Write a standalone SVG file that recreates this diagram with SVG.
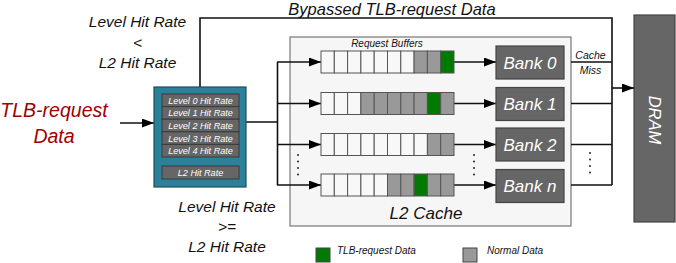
<svg xmlns="http://www.w3.org/2000/svg" width="676" height="263" viewBox="0 0 676 263">
<defs>
<marker id="ah" markerWidth="12" markerHeight="9" refX="12" refY="4.5" orient="auto" markerUnits="userSpaceOnUse">
<path d="M0,0 L12,4.5 L0,9 Z" fill="#000"/>
</marker>
<style>
text{font-family:"Liberation Sans",Arial,sans-serif;font-style:italic;}
.ln{stroke:#111;stroke-width:1.6;fill:none;}
.w{fill:#f8f8f8;stroke:#555;stroke-width:1;}
.g{fill:#999;stroke:#555;stroke-width:1;}
.gr{fill:#007a00;stroke:#555;stroke-width:1;}
.bank{fill:#666;stroke:#444;stroke-width:1.2;}
.bt{fill:#fff;font-size:17px;text-anchor:middle;}
.hr{fill:#666;stroke:#3a3a3a;stroke-width:1;}
.ht{fill:#fff;font-size:9.1px;text-anchor:middle;}
.lbl{fill:#111;font-size:15.5px;text-anchor:middle;}
</style>
</defs>
<rect width="676" height="263" fill="#fff"/>

<g id="l2cache">
<rect x="290" y="37" width="281" height="189" fill="#f6f6f6" stroke="#777" stroke-width="1.2"/>
<text x="426" y="219" font-size="17" fill="#111" text-anchor="middle">L2 Cache</text>
<text x="387" y="47" font-size="10" fill="#111" text-anchor="middle">Request Buffers</text>
</g>

<g id="dram">
<rect x="634" y="15" width="41" height="207" fill="#666" stroke="#444" stroke-width="1.2"/>
<text x="0" y="0" font-size="16.5" fill="#fff" text-anchor="middle" transform="translate(649,120) rotate(90)">DRAM</text>
</g>

<g id="connectors">
<path class="ln" d="M200,87 V18 H612 V185"/>
<path class="ln" d="M571,62 H612 M571,103.5 H612 M571,144.5 H612 M571,185 H612"/>
<line class="ln" x1="612" y1="88" x2="634" y2="88" marker-end="url(#ah)"/>
<line class="ln" x1="120" y1="123" x2="154" y2="123" marker-end="url(#ah)"/>
<path class="ln" d="M246,122 H277.5 M277.5,62 V185"/>
<line class="ln" x1="277" y1="62" x2="321" y2="62" marker-end="url(#ah)"/>
<line class="ln" x1="277" y1="103.5" x2="321" y2="103.5" marker-end="url(#ah)"/>
<line class="ln" x1="277" y1="144.5" x2="321" y2="144.5" marker-end="url(#ah)"/>
<line class="ln" x1="277" y1="185" x2="321" y2="185" marker-end="url(#ah)"/>
<line class="ln" x1="454" y1="62" x2="496" y2="62" marker-end="url(#ah)"/>
<line class="ln" x1="454" y1="103.5" x2="496" y2="103.5" marker-end="url(#ah)"/>
<line class="ln" x1="454" y1="144.5" x2="496" y2="144.5" marker-end="url(#ah)"/>
<line class="ln" x1="454" y1="185" x2="496" y2="185" marker-end="url(#ah)"/>
<g fill="#111">
<circle cx="298" cy="155" r="0.9"/><circle cx="298" cy="161.5" r="0.9"/><circle cx="298" cy="168" r="0.9"/><circle cx="298" cy="174.5" r="0.9"/>
<circle cx="474" cy="155" r="0.9"/><circle cx="474" cy="161.5" r="0.9"/><circle cx="474" cy="168" r="0.9"/><circle cx="474" cy="174.5" r="0.9"/>
<circle cx="590" cy="153" r="0.9"/><circle cx="590" cy="159.5" r="0.9"/><circle cx="590" cy="166" r="0.9"/><circle cx="590" cy="172.5" r="0.9"/>
</g>
<text x="590.5" y="59" font-size="10.5" fill="#111" text-anchor="middle">Cache</text>
<text x="590.5" y="74" font-size="10.5" fill="#111" text-anchor="middle">Miss</text>
</g>

<g id="hitrates">
<rect x="154" y="87" width="92" height="100" fill="#2b8199" stroke="#1d4f5e" stroke-width="1.2"/>
<rect class="hr" x="162" y="94" width="77" height="12.6"/><text class="ht" x="200.5" y="103.8">Level 0 Hit Rate</text>
<rect class="hr" x="162" y="106.6" width="77" height="12.6"/><text class="ht" x="200.5" y="116.4">Level 1 Hit Rate</text>
<rect class="hr" x="162" y="119.2" width="77" height="12.6"/><text class="ht" x="200.5" y="129">Level 2 Hit Rate</text>
<rect class="hr" x="162" y="131.8" width="77" height="12.6"/><text class="ht" x="200.5" y="141.6">Level 3 Hit Rate</text>
<rect class="hr" x="162" y="144.4" width="77" height="12.6"/><text class="ht" x="200.5" y="154.2">Level 4 Hit Rate</text>
<rect class="hr" x="162" y="166" width="77" height="13"/><text class="ht" x="200.5" y="176">L2 Hit Rate</text>
</g>

<g id="buffer0">
<rect class="w" x="321" y="51" width="13.3" height="22"/><rect class="w" x="334.3" y="51" width="13.3" height="22"/><rect class="w" x="347.6" y="51" width="13.3" height="22"/><rect class="w" x="360.9" y="51" width="13.3" height="22"/><rect class="w" x="374.2" y="51" width="13.3" height="22"/><rect class="w" x="387.5" y="51" width="13.3" height="22"/><rect class="w" x="400.8" y="51" width="13.3" height="22"/><rect class="g" x="414.1" y="51" width="13.3" height="22"/><rect class="g" x="427.4" y="51" width="13.3" height="22"/><rect class="gr" x="440.7" y="51" width="13.3" height="22"/>
</g>
<g id="buffer1">
<rect class="w" x="321" y="92.5" width="13.3" height="22"/><rect class="w" x="334.3" y="92.5" width="13.3" height="22"/><rect class="w" x="347.6" y="92.5" width="13.3" height="22"/><rect class="g" x="360.9" y="92.5" width="13.3" height="22"/><rect class="g" x="374.2" y="92.5" width="13.3" height="22"/><rect class="g" x="387.5" y="92.5" width="13.3" height="22"/><rect class="g" x="400.8" y="92.5" width="13.3" height="22"/><rect class="g" x="414.1" y="92.5" width="13.3" height="22"/><rect class="gr" x="427.4" y="92.5" width="13.3" height="22"/><rect class="g" x="440.7" y="92.5" width="13.3" height="22"/>
</g>
<g id="buffer2">
<rect class="w" x="321" y="133.5" width="13.3" height="22"/><rect class="w" x="334.3" y="133.5" width="13.3" height="22"/><rect class="w" x="347.6" y="133.5" width="13.3" height="22"/><rect class="w" x="360.9" y="133.5" width="13.3" height="22"/><rect class="w" x="374.2" y="133.5" width="13.3" height="22"/><rect class="w" x="387.5" y="133.5" width="13.3" height="22"/><rect class="w" x="400.8" y="133.5" width="13.3" height="22"/><rect class="w" x="414.1" y="133.5" width="13.3" height="22"/><rect class="g" x="427.4" y="133.5" width="13.3" height="22"/><rect class="g" x="440.7" y="133.5" width="13.3" height="22"/>
</g>
<g id="bufferN">
<rect class="w" x="321" y="174" width="13.3" height="22"/><rect class="w" x="334.3" y="174" width="13.3" height="22"/><rect class="w" x="347.6" y="174" width="13.3" height="22"/><rect class="w" x="360.9" y="174" width="13.3" height="22"/><rect class="w" x="374.2" y="174" width="13.3" height="22"/><rect class="g" x="387.5" y="174" width="13.3" height="22"/><rect class="g" x="400.8" y="174" width="13.3" height="22"/><rect class="gr" x="414.1" y="174" width="13.3" height="22"/><rect class="g" x="427.4" y="174" width="13.3" height="22"/><rect class="g" x="440.7" y="174" width="13.3" height="22"/>
</g>

<g id="bank0"><rect class="bank" x="496" y="46" width="68" height="33"/><text class="bt" x="530" y="68.5">Bank 0</text></g>
<g id="bank1"><rect class="bank" x="496" y="87.5" width="68" height="33"/><text class="bt" x="530" y="110">Bank 1</text></g>
<g id="bank2"><rect class="bank" x="496" y="128" width="68" height="33"/><text class="bt" x="530" y="150.5">Bank 2</text></g>
<g id="bankN"><rect class="bank" x="496" y="169.5" width="68" height="33"/><text class="bt" x="530" y="192">Bank n</text></g>

<g id="labels">
<text x="392" y="14.5" font-size="16.5" fill="#111" text-anchor="middle">Bypassed TLB-request Data</text>
<text class="lbl" x="137.5" y="27">Level Hit Rate</text>
<text class="lbl" x="137.5" y="48">&lt;</text>
<text class="lbl" x="137.5" y="68">L2 Hit Rate</text>
<text class="lbl" x="227" y="212">Level Hit Rate</text>
<text class="lbl" x="227" y="232">&gt;=</text>
<text class="lbl" x="227" y="252">L2 Hit Rate</text>
<text x="54" y="117" font-size="19.5" fill="#a00000" text-anchor="middle">TLB-request</text>
<text x="54" y="143" font-size="19.5" fill="#a00000" text-anchor="middle">Data</text>
</g>

<g id="legend">
<rect x="316" y="248" width="14" height="14" fill="#007a00" stroke="#444" stroke-width="1"/>
<text x="337" y="254" font-size="10" fill="#111">TLB-request Data</text>
<rect x="463" y="248" width="14" height="14" fill="#999" stroke="#444" stroke-width="1"/>
<text x="487" y="254" font-size="10" fill="#111">Normal Data</text>
</g>
</svg>
